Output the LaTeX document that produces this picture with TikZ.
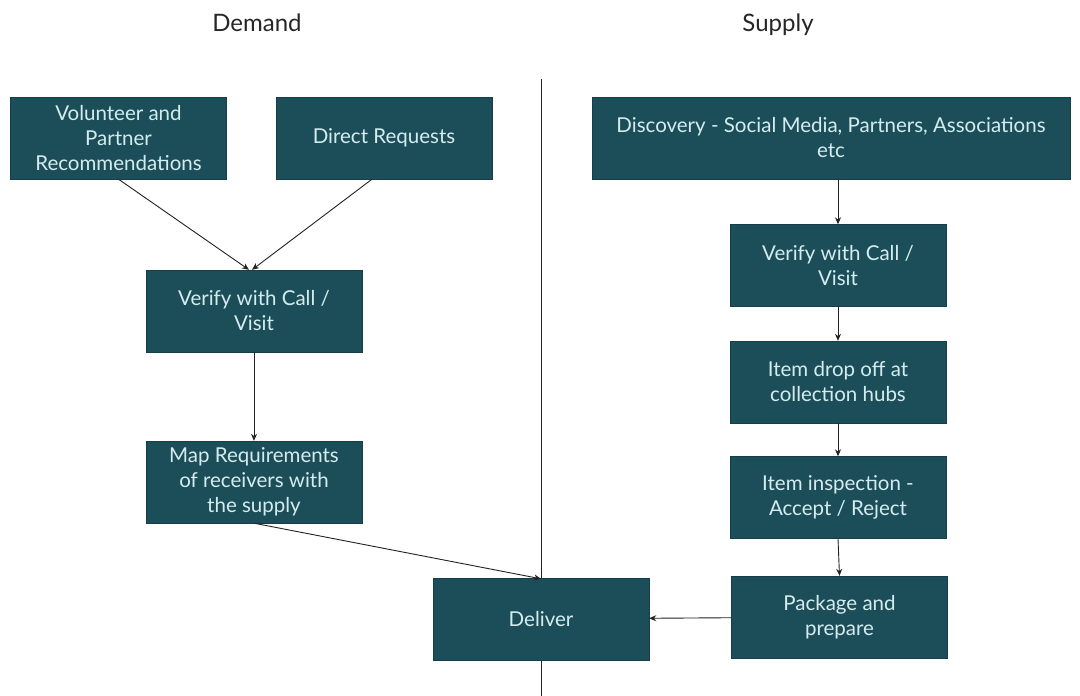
\documentclass[tikz,border=0pt]{standalone}
\usepackage{fontspec}
\setmainfont{Lato}
\usepackage{tikz}
\usetikzlibrary{arrows.meta}
\usetikzlibrary{positioning}
\definecolor{boxfill}{HTML}{1C4E5A}
\definecolor{boxline}{HTML}{143F49}
\definecolor{boxtext}{HTML}{D5ECEE}
\definecolor{linkcol}{HTML}{222222}

\begin{document}
\begin{tikzpicture}[x=1pt, y=-1pt,
            procbox/.style={rectangle, draw=boxline, fill=boxfill, text=boxtext,
                minimum width=216pt, minimum height=82pt, align=center,
                inner sep=2pt, font=\fontsize{20.5}{25}\selectfont},
            heading/.style={font=\fontsize{24}{28}\selectfont, text=black!85, anchor=base},
            link/.style={draw=linkcol, line width=0.9pt, -{Stealth[length=7pt,width=6pt]}}
        ]
        \useasboundingbox (0,0) rectangle (1080,696);
        \node[heading] (demand) at (257,31) {Demand};
        \node[heading] (supply) at (778,31) {Supply};
        % divider between both sides
        \coordinate (divtop) at (541,79);
        \coordinate (divbot) at (541,696);
        \draw[draw=linkcol, line width=0.9pt] (divtop) -- (divbot);
        % demand side
        \node[procbox] (vol) at (118.5,138) {Volunteer and\\Partner\\Recommendations};
        \node[procbox] (direct) at (384,138) {Direct Requests};
        \node[procbox] (verifyd) at (254,311) {Verify with Call /\\Visit};
        \node[procbox] (map) at (254,482) {Map Requirements\\of receivers with\\the supply};
        \node[procbox] (deliver) at (541,619) {Deliver};
        % supply side
        \node[procbox, minimum width=478pt] (discovery) at (831,138) {Discovery - Social Media, Partners, Associations\\etc};
        \node[procbox] (verifys) at (838,265.5) {Verify with Call /\\Visit};
        \node[procbox] (dropoff) at (838,382) {Item drop off at\\collection hubs};
        \node[procbox] (inspect) at (838,497.5) {Item inspection -\\Accept / Reject};
        \node[procbox] (package) at (839.5,617) {Package and\\prepare};
        % links
        \draw[link] (vol.south) -- ([xshift=-5pt]verifyd.north);
        \draw[link] ([xshift=-12pt]direct.south) -- ([xshift=-2pt]verifyd.north);
        \draw[link] (verifyd) -- (map);
        \draw[link] (map.south) -- ([yshift=-1pt]deliver.north);
        \draw[link] ([xshift=7pt]discovery.south) -- (verifys.north);
        \draw[link] (verifys) -- (dropoff);
        \draw[link] (dropoff) -- (inspect);
        \draw[link] (inspect.south) -- (package.north);
        \draw[link] (package) -- (deliver);
\end{tikzpicture}
\end{document}
